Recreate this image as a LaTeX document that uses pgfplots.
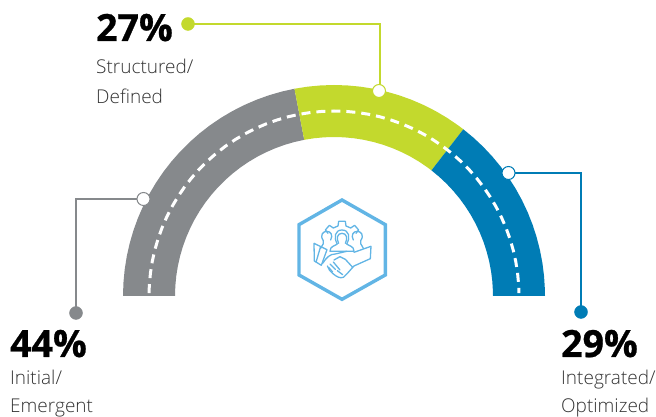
\documentclass[border=0pt]{standalone}
\usepackage{pgfplots}
\pgfplotsset{compat=1.18}
\usepackage{pgfplotstable}
\usepackage{fontspec}
\setmainfont{Open Sans}
\newfontfamily\lightfont{Open Sans Light}
\newfontfamily\heavyfont[BoldFeatures={FakeBold=0.7}]{Open Sans}
\definecolor{ringgray}{HTML}{86898C}
\definecolor{ringgreen}{HTML}{C3D92D}
\definecolor{ringblue}{HTML}{007CB5}
\definecolor{iconblue}{HTML}{62B5E5}
\definecolor{labelgray}{HTML}{333333}
% Band outlines: cumulative share in percent, radius in the axis units.
\pgfplotstableread{
share r
0 211
2 211
4 211
6 211
8 211
10 211
12 211
14 211
16 211
18 211
20 211
22 211
24 211
26 211
28 211
30 211
32 211
34 211
36 211
38 211
40 211
42 211
44 211
44 159
42 159
40 159
38 159
36 159
34 159
32 159
30 159
28 159
26 159
24 159
22 159
20 159
18 159
16 159
14 159
12 159
10 159
8 159
6 159
4 159
2 159
0 159
}\bandinitial
\pgfplotstableread{
share r
44 211
46 211
48 211
50 211
52 211
54 211
56 211
58 211
60 211
62 211
64 211
66 211
68 211
70 211
71 211
71 159
70 159
68 159
66 159
64 159
62 159
60 159
58 159
56 159
54 159
52 159
50 159
48 159
46 159
44 159
}\bandstructured
\pgfplotstableread{
share r
71 211
73 211
75 211
77 211
79 211
81 211
83 211
85 211
87 211
89 211
91 211
93 211
95 211
97 211
99 211
100 211
100 159
99 159
97 159
95 159
93 159
91 159
89 159
87 159
85 159
83 159
81 159
79 159
77 159
75 159
73 159
71 159
}\bandintegrated
\pgfplotstableread{
share r
0.5 185
2 185
4 185
6 185
8 185
10 185
12 185
14 185
16 185
18 185
20 185
22 185
24 185
26 185
28 185
30 185
32 185
34 185
36 185
38 185
40 185
42 185
44 185
46 185
48 185
50 185
52 185
54 185
56 185
58 185
60 185
62 185
64 185
66 185
68 185
70 185
72 185
74 185
76 185
78 185
80 185
82 185
84 185
86 185
88 185
90 185
92 185
94 185
96 185
98 185
99.5 185
}\bandcentre
\pgfplotsset{
  table/gauge/.style={
    x expr={334+\thisrow{r}*cos(180-1.8*\thisrow{share})},
    y expr={121+\thisrow{r}*sin(180-1.8*\thisrow{share})}
  },
  connector/.style={line width=2.4pt,no marks,#1},
  openend/.style={only marks,mark=*,mark size=6.5pt,
    mark options={fill=white,draw=#1,line width=1pt}},
  solidend/.style={only marks,mark=*,mark size=6.5pt,
    mark options={fill=#1,draw=#1}}
}
\tikzset{
  bignum/.style={anchor=base west,inner sep=0pt,font=\heavyfont\bfseries\fontsize{37.5}{38}\selectfont},
  caption/.style={anchor=base west,inner sep=0pt,font=\lightfont\fontsize{19}{19}\selectfont,text=labelgray}
}
\begin{document}
\begin{tikzpicture}
\useasboundingbox (0,0) rectangle (656pt,417pt);
\begin{axis}[
  anchor=south west, at={(0,0)},
  x=1pt, y=1pt,
  xmin=0, xmax=656, ymin=0, ymax=417,
  hide axis, clip=false, scale only axis
]
% gauge bands
\addplot[fill=ringgray,draw=none] table[gauge] {\bandinitial};
\addplot[fill=ringgreen,draw=none] table[gauge] {\bandstructured};
\addplot[fill=ringblue,draw=none] table[gauge] {\bandintegrated};
\addplot[white,line width=3pt,no marks,dash pattern=on 9pt off 6pt] table[gauge] {\bandcentre};
% leader lines
\addplot[connector=ringgray,line join=miter] coordinates {(143.5,218) (76,218) (76,104)};
\addplot[connector=ringgreen,line join=miter] coordinates {(380,326) (380,393) (188,393)};
\addplot[connector=ringblue,line join=miter] coordinates {(508.5,244) (581,244) (581,105)};
\addplot[solidend=ringgray] coordinates {(76,104)};
\addplot[solidend=ringgreen] coordinates {(188,393)};
\addplot[solidend=ringblue] coordinates {(581,105)};
\addplot[openend=ringgray] coordinates {(143.5,218)};
\addplot[openend=ringgreen] coordinates {(379,326)};
\addplot[openend=ringblue] coordinates {(508.5,244)};
% percentages and captions
\node[bignum] at (96,376) {27\%};
\node[caption] at (96,343) {Structured/};
\node[caption] at (96,313) {Defined};
\node[bignum] at (10,60) {44\%};
\node[caption] at (10,32) {Initial/};
\node[caption] at (10,4) {Emergent};
\node[bignum] at (561,60) {29\%};
\node[caption] at (561,32) {Integrated/};
\node[caption] at (561,4) {Optimized};
\end{axis}
% hexagon badge with the collaboration icon; y runs downward in this scope
\begin{scope}[shift={(280pt,237pt)},x=0.3333pt,y=-0.3333pt,iconblue,line join=round,line cap=round]
  \draw[line width=3.4pt,line join=miter] (186,60)--(316,134)--(316,285)--(186,358)--(57,285)--(57,134)--cycle;
  \begin{scope}[line width=1.3pt]
    % gear
    \draw (174,138)--(176,124)--(196,124)--(198,138)--(212,144)--(224,136)--(236,150)--(228,160)
          (144,160)--(136,150)--(148,136)--(160,144)--(174,138);
    % side figures
    \draw (122,205) .. controls (128,192) and (134,190) .. (130,182) .. controls (118,165) and (130,154) .. (140,154)
          .. controls (152,154) and (160,165) .. (152,180);
    \draw (250,205) .. controls (244,192) and (238,190) .. (242,182) .. controls (254,165) and (242,154) .. (232,154)
          .. controls (220,154) and (212,165) .. (220,180);
    % centre figure
    \draw (150,214) .. controls (150,198) and (165,198) .. (172,192) .. controls (160,172) and (165,150) .. (186,150)
          .. controls (207,150) and (212,172) .. (200,192) .. controls (207,198) and (222,198) .. (222,214) -- cycle;
    \draw (176,190) .. controls (168,175) and (172,160) .. (186,160) .. controls (200,160) and (204,175) .. (196,190);
    % cuffs
    \draw (102,190)--(141,209)--(124,256)--(103,243)--cycle (122,199)--(108,247);
    \draw (222,217)--(273,199)--(271,236)--(222,258);
    % clasped hands
    \draw (128,250) .. controls (140,232) and (150,222) .. (166,222) -- (200,214);
    \draw (222,258) .. controls (212,268) and (204,280) .. (190,292) .. controls (180,296) and (170,290) .. (160,282)
          .. controls (152,276) and (145,268) .. (142,258);
    \draw (162,240)--(180,230)--(196,238)--(218,262);
    \draw (150,252)--(166,268) (160,246)--(180,270) (172,272)--(188,284) (146,262)--(158,276);
  \end{scope}
\end{scope}
\end{tikzpicture}
\end{document}
